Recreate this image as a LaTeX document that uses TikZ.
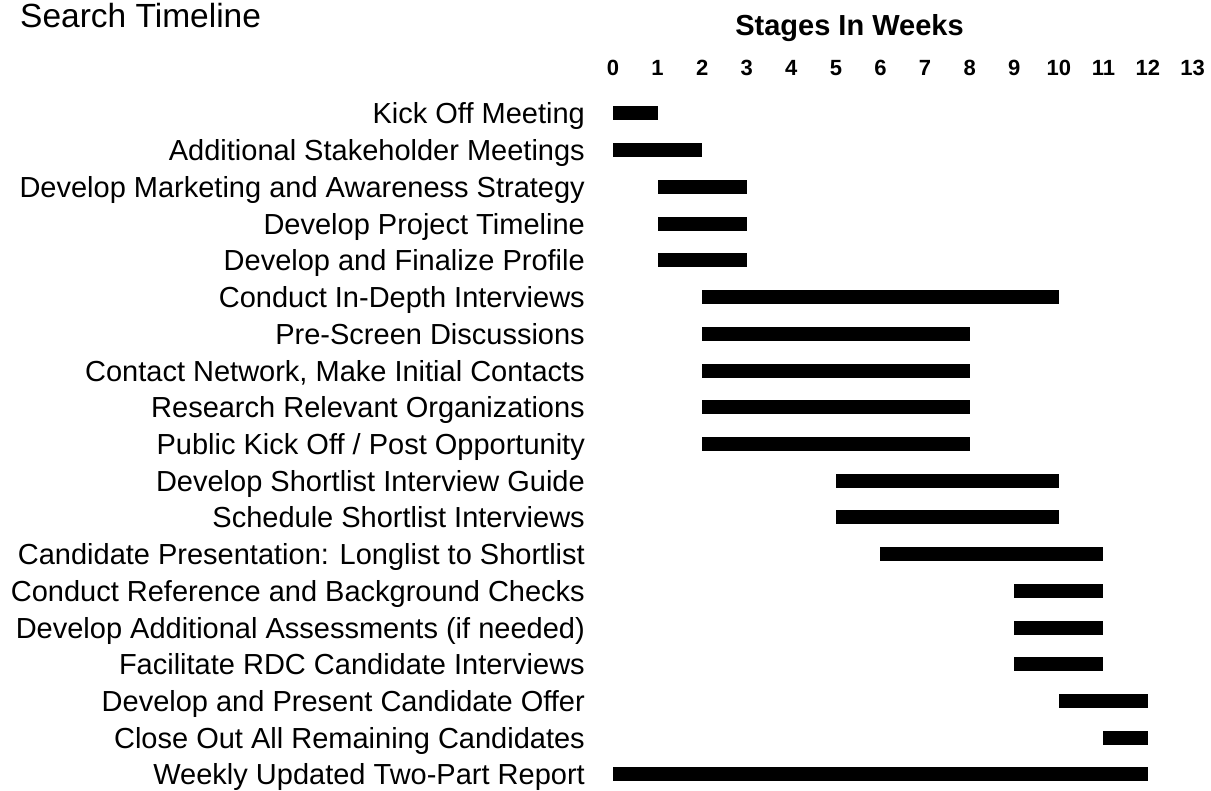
\documentclass[tikz,border=0pt]{standalone}
\usepackage{fontspec}
\setmainfont{Liberation Sans}
\begin{document}
\begin{tikzpicture}[x=1pt,y=-1pt,
  tasklabel/.style={anchor=base east,inner sep=0pt,font=\fontsize{29}{32}\selectfont},
  weeknum/.style={anchor=base,inner sep=0pt,font=\fontsize{22}{26}\selectfont\bfseries},
  taskbar/.style={fill=black}]
\useasboundingbox (0,0) rectangle (1211,791);
% week grid: x = 613 + 44.58 * week, rows 36.72 apart starting at 114
\def\wk{44.58}
\def\xo{613}
\node[anchor=base west,inner sep=0pt,font=\fontsize{33.5}{40}\selectfont] (title) at (20,28) {Search Timeline};
\node[anchor=base,inner sep=0pt,font=\fontsize{29}{34}\selectfont\bfseries] (axistitle) at (849.5,36) {Stages In Weeks};
\foreach \n in {0,...,13}{
  \node[weeknum] (w\n) at ({\xo+\wk*\n},75.5) {\n};
}
\foreach [count=\i] \lbl/\s/\e in {
  Kick Off Meeting/0/1,
  Additional Stakeholder Meetings/0/2,
  Develop Marketing and Awareness Strategy/1/3,
  Develop Project Timeline/1/3,
  Develop and Finalize Profile/1/3,
  Conduct In-Depth Interviews/2/10,
  Pre-Screen Discussions/2/8,
  {Contact Network, Make Initial Contacts}/2/8,
  Research Relevant Organizations/2/8,
  {Public Kick Off / Post Opportunity}/2/8,
  Develop Shortlist Interview Guide/5/10,
  Schedule Shortlist Interviews/5/10,
  Candidate Presentation: Longlist to Shortlist/6/11,
  Conduct Reference and Background Checks/9/11,
  Develop Additional Assessments (if needed)/9/11,
  Facilitate RDC Candidate Interviews/9/11,
  Develop and Present Candidate Offer/10/12,
  Close Out All Remaining Candidates/11/12,
  Weekly Updated Two-Part Report/0/12}{
  \pgfmathsetmacro\yy{113.5+36.72*(\i-1)}
  \node[tasklabel] (task\i) at (585,\yy+10.5) {\lbl};
  \fill[taskbar] ({\xo+\wk*\s},\yy-7) rectangle ({\xo+\wk*\e},\yy+7);
}
\end{tikzpicture}
\end{document}
